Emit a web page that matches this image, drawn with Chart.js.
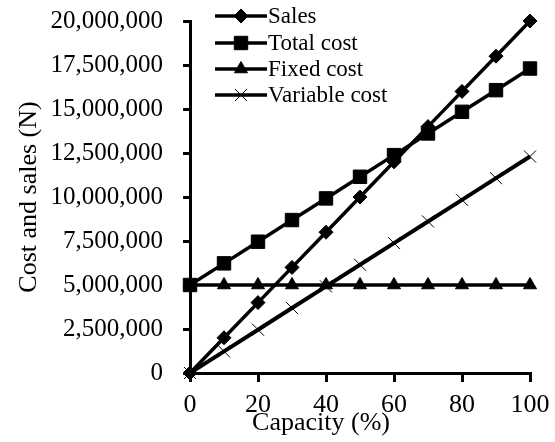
<!DOCTYPE html>
<html>
<head>
<meta charset="utf-8">
<script src="https://cdn.jsdelivr.net/npm/chart.js@4"></script>
<style>
  html, body { margin: 0; padding: 0; background: #fff; }
  #wrap { width: 555px; height: 442px; }
</style>
</head>
<body>
<div id="wrap"><canvas id="grafico"></canvas></div>
<script>
const capacidade = [0, 10, 20, 30, 40, 50, 60, 70, 80, 90, 100]
const vendas = [0, 2000000, 4000000, 6000000, 8000000, 10000000, 12000000, 14000000, 16000000, 18000000, 20000000]
const custoTotal = [5000000, 6230000, 7460000, 8690000, 9920000, 11150000, 12380000, 13610000, 14840000, 16070000, 17300000]
const custoFixo = [5000000, 5000000, 5000000, 5000000, 5000000, 5000000, 5000000, 5000000, 5000000, 5000000, 5000000]
const custoVariavel = [0, 1230000, 2460000, 3690000, 4920000, 6150000, 7380000, 8610000, 9840000, 11070000, 12300000]
const nomes = ['Sales', 'Total cost', 'Fixed cost', 'Variable cost']
const xTicks = [0, 20, 40, 60, 80, 100]

const fonte = '"Liberation Serif", "Times New Roman", serif'

const montarSerie = (label, valores, estilo, raio, espessura) => ({
    label,
    data: capacidade.map((x, i) => ({ x, y: valores[i] })),
    borderColor: '#000',
    backgroundColor: '#000',
    borderWidth: espessura,
    pointStyle: estilo,
    pointRadius: raio,
    pointHoverRadius: raio,
    pointBorderWidth: 1,
    pointBorderColor: '#000',
    pointBackgroundColor: '#000',
    clip: false,
    tension: 0
})

const datasets = [
    montarSerie(nomes[0], vendas, 'rectRot', 7, 3.5),
    montarSerie(nomes[1], custoTotal, 'rect', 9.5, 3.5),
    montarSerie(nomes[2], custoFixo, 'triangle', 7.5, 3.5),
    montarSerie(nomes[3], custoVariavel, 'crossRot', 8.5, 4)
]

// legenda desenhada dentro da área, com linha + marcador
const legendaPlugin = {
    id: 'legendaLinhas',
    afterDraw(chart) {
        const ctx = chart.ctx
        const linhas = [16, 43, 69, 95]
        ctx.save()
        chart.data.datasets.forEach((ds, i) => {
            const y = linhas[i]
            ctx.strokeStyle = '#000'
            ctx.lineWidth = 3.5
            ctx.beginPath()
            ctx.moveTo(215, y)
            ctx.lineTo(267, y)
            ctx.stroke()
            ctx.fillStyle = '#000'
            ctx.lineWidth = 1
            Chart.helpers.drawPoint(ctx, {
                pointStyle: ds.pointStyle,
                radius: ds.pointRadius,
                borderWidth: 1,
                rotation: 0
            }, 241, y)
            ctx.font = '23px ' + fonte
            ctx.textAlign = 'left'
            ctx.textBaseline = 'middle'
            ctx.fillText(ds.label, 268, y + 1)
        })
        // título do eixo x
        ctx.font = '26px ' + fonte
        ctx.textAlign = 'center'
        ctx.textBaseline = 'alphabetic'
        ctx.fillStyle = '#000'
        ctx.fillText('Capacity (%)', 321, 430)
        ctx.restore()
    }
}

const ctx = document.querySelector('#grafico')
const chart = new Chart(ctx, {
    type: 'line',
    data: { datasets },
    options: {
        responsive: true,
        maintainAspectRatio: false,
        animation: false,
        layout: { padding: 0 },
        plugins: {
            legend: { display: false },
            tooltip: { enabled: false }
        },
        scales: {
            x: {
                type: 'linear',
                min: 0,
                max: 100,
                afterFit: (scale) => {
                    scale.height = 69
                    scale.paddingLeft = 0
                    scale.paddingRight = 25
                },
                afterBuildTicks: (scale) => { scale.ticks = xTicks.map(v => ({ value: v })) },
                border: { display: true, color: '#000', width: 3 },
                grid: { drawOnChartArea: false, drawTicks: true, tickLength: 9, color: '#000', lineWidth: 3 },
                ticks: { color: '#000', padding: 8, maxRotation: 0, font: { family: fonte, size: 26 } }
            },
            y: {
                min: 0,
                max: 20000000,
                afterFit: (scale) => {
                    scale.width = 190
                    scale.paddingTop = 21
                    scale.paddingBottom = 0
                },
                border: { display: true, color: '#000', width: 3 },
                grid: { drawOnChartArea: false, drawTicks: true, tickLength: 7, color: '#000', lineWidth: 3 },
                ticks: {
                    stepSize: 2500000,
                    color: '#000',
                    padding: 20,
                    font: { family: fonte, size: 25 },
                    callback: (v) => v.toLocaleString('en-US')
                },
                title: {
                    display: true,
                    text: 'Cost and sales (N)',
                    color: '#000',
                    padding: { top: 14, bottom: 0 },
                    font: { family: fonte, size: 26 }
                }
            }
        }
    },
    plugins: [legendaPlugin]
})
</script>
</body>
</html>
